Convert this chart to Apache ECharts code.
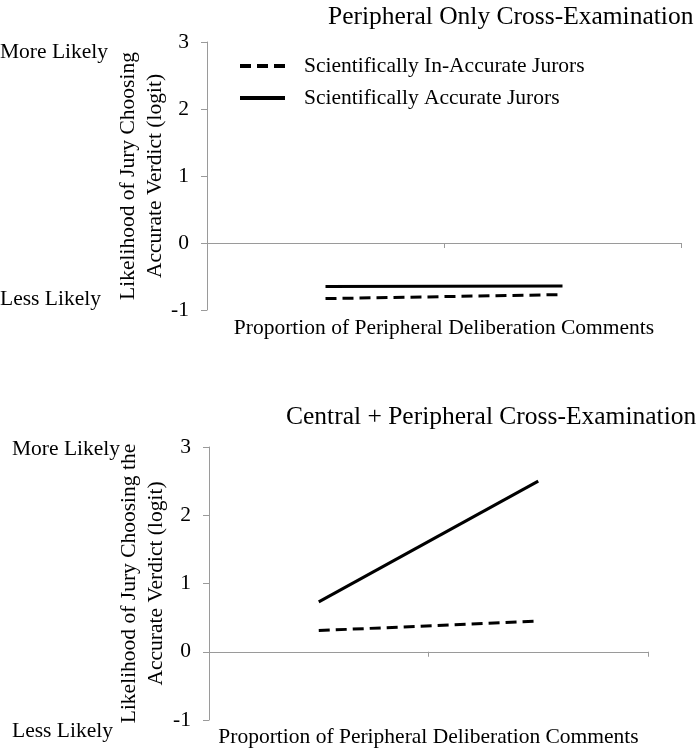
<!DOCTYPE html>
<html>
<head>
<meta charset="utf-8">
<script src="https://cdn.jsdelivr.net/npm/echarts@6/dist/echarts.min.js"></script>
<style>
  html, body { margin: 0; padding: 0; background: #fff; }
  #chart { width: 700px; height: 750px; }
</style>
</head>
<body>
<div id="chart"></div>
<script>
// two points per line: low and high proportion of peripheral comments
const categories = ['Low', 'High'];
const yTicks = [-1, 0, 1, 2, 3];

// Peripheral only cross-examination
const periphInaccurate = [-0.83, -0.77];
const periphAccurate = [-0.65, -0.64];

// Central + peripheral cross-examination
const centralInaccurate = [0.31, 0.45];
const centralAccurate = [0.73, 2.5];

const legendNames = ['Scientifically In-Accurate Jurors', 'Scientifically Accurate Jurors'];

const font = 'Liberation Serif';
const axisGray = '#9a9a9a';
const fs = 21.5;

function makeX(gridIndex, nameGap){
  return {
    type: 'category',
    gridIndex: gridIndex,
    data: categories,
    boundaryGap: true,
    name: 'Proportion of Peripheral Deliberation Comments',
    nameLocation: 'middle',
    nameGap: nameGap,
    nameMoveOverlap: false,
    nameTextStyle: { fontFamily: font, fontSize: fs, color: '#000' },
    axisLine: { onZero: true, lineStyle: { color: axisGray, width: 1 } },
    axisTick: { show: true, length: 5, lineStyle: { color: axisGray } },
    axisLabel: { show: false },
    splitLine: { show: false }
  };
}

function makeY(gridIndex, title, nameGap){
  return {
    type: 'value',
    gridIndex: gridIndex,
    min: yTicks[0],
    max: yTicks[yTicks.length - 1],
    interval: 1,
    name: title,
    nameLocation: 'middle',
    nameRotate: 90,
    nameGap: nameGap,
    nameMoveOverlap: false,
    nameTextStyle: { fontFamily: font, fontSize: fs, color: '#000', lineHeight: 27 },
    axisLine: { show: true, lineStyle: { color: axisGray, width: 1 } },
    axisTick: { show: true, length: 6, lineStyle: { color: axisGray } },
    axisLabel: { margin: 18, fontFamily: font, fontSize: fs, color: '#000' },
    splitLine: { show: false }
  };
}

function dashed(name, data, idx){
  return {
    name: name, type: 'line', xAxisIndex: idx, yAxisIndex: idx, data: data,
    symbol: 'none', silent: true,
    itemStyle: { color: '#000' },
    lineStyle: { color: '#000', width: 3, type: [11, 6] }
  };
}
function solid(name, data, idx){
  return {
    name: name, type: 'line', xAxisIndex: idx, yAxisIndex: idx, data: data,
    symbol: 'none', silent: true,
    itemStyle: { color: '#000' },
    lineStyle: { color: '#000', width: 3, type: 'solid' }
  };
}

function label(text, x, y){
  return { type: 'text', left: x, top: y,
    style: { text: text, font: fs + 'px "Liberation Serif"', fill: '#000' } };
}

const chart = echarts.init(document.getElementById('chart'));
chart.setOption({
  animation: false,
  backgroundColor: '#fff',
  textStyle: { fontFamily: font },
  title: [
    { text: 'Peripheral Only Cross-Examination', left: 323, top: -1,
      textStyle: { fontFamily: font, fontSize: 25.5, fontWeight: 'normal', color: '#000' } },
    { text: 'Central + Peripheral Cross-Examination', left: 281, top: 399,
      textStyle: { fontFamily: font, fontSize: 25.5, fontWeight: 'normal', color: '#000' } }
  ],
  legend: {
    left: 233, top: 50,
    orient: 'vertical',
    itemWidth: 45, itemHeight: 14, itemGap: 10,
    data: legendNames,
    itemStyle: { opacity: 0 },
    lineStyle: { width: 4 },
    textStyle: { fontFamily: font, fontSize: fs, color: '#000', padding: [0, 0, 0, 14] }
  },
  grid: [
    { left: 207, right: 19, top: 42, height: 268, outerBoundsMode: 'none' },
    { left: 209, right: 52, top: 447, height: 273, outerBoundsMode: 'none' }
  ],
  xAxis: [makeX(0, 7), makeX(1, 6)],
  yAxis: [
    makeY(0, 'Likelihood of Jury Choosing\nAccurate Verdict (logit)', 38),
    makeY(1, 'Likelihood of Jury Choosing the\nAccurate Verdict (logit)', 39)
  ],
  graphic: [
    label('More Likely', 0, 41),
    label('Less Likely', 0, 288),
    label('More Likely', 12, 438),
    label('Less Likely', 12, 720)
  ],
  series: [
    dashed(legendNames[0], periphInaccurate, 0),
    solid(legendNames[1], periphAccurate, 0),
    dashed(legendNames[0], centralInaccurate, 1),
    solid(legendNames[1], centralAccurate, 1)
  ]
});
</script>
</body>
</html>
